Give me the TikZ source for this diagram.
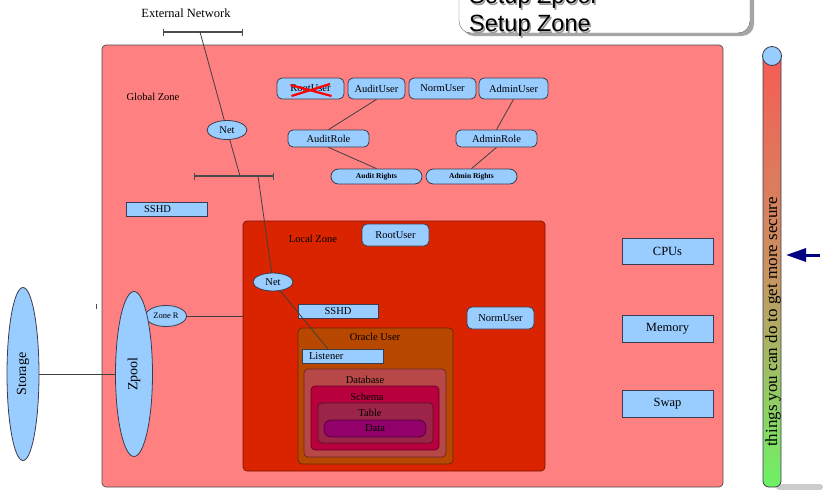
\documentclass[tikz,border=0pt]{standalone}
\usepackage{fontspec}
\setmainfont{Liberation Serif}
\newfontfamily\arialf{Liberation Sans}
\usetikzlibrary{shapes.geometric,arrows.meta}
\definecolor{lblue}{HTML}{99CCFF}
\definecolor{gzc}{HTML}{FF8080}
\definecolor{lzc}{HTML}{DA2400}
\definecolor{orc}{HTML}{B84700}
\definecolor{dbc}{HTML}{B84848}
\definecolor{scc}{HTML}{B8003F}
\definecolor{tbc}{HTML}{9C2449}
\definecolor{dtc}{HTML}{92006A}
\definecolor{edge}{HTML}{3C3C50}
\definecolor{navyc}{HTML}{000080}
\definecolor{barr}{HTML}{F85A55}
\definecolor{barm}{HTML}{C99262}
\definecolor{barg}{HTML}{6EF266}
\begin{document}
\begin{tikzpicture}[x=1pt,y=-1pt,
  lbl/.style={font=\fontsize{10.5}{12}\selectfont, inner sep=0},
  zonebox/.style={draw=#1!55!black, fill=#1, rounded corners=4, inner sep=0, line width=0.7},
  ubox/.style={draw=edge, fill=lblue, rounded corners=5, inner sep=0, line width=0.8, font=\fontsize{10.5}{12}\selectfont},
  rbox/.style={draw=edge, fill=lblue, inner sep=0, line width=1, font=\fontsize{10.5}{12}\selectfont},
  ebox/.style={ellipse, draw=edge, fill=lblue, inner sep=0, line width=0.8, font=\fontsize{10.5}{12}\selectfont},
  link/.style={draw=black!75, line width=0.8},
  netbar/.style={draw=black!70, line width=1.2, {Bar[width=7pt]}-{Bar[width=7pt]}},
]
\useasboundingbox (0,0) rectangle (823,490);
\fill[white] (0,0) rectangle (823,490);

% top box "Setup"
\fill[black!35, rounded corners=12] (462,-27) rectangle (754,36);
\node[draw=black!60, fill=white, rounded corners=12, minimum width=291, minimum height=63, inner sep=0] (setupbox) at (604.5,1.5) {};
\node[anchor=base west, inner sep=0, text=black!40, font=\arialf\fontsize{23.5}{28}\selectfont] (szpools) at (470.5,5) {Setup Zpool};
\node[anchor=base west, inner sep=0, font=\arialf\fontsize{23.5}{28}\selectfont] (szpool) at (469,3.5) {Setup Zpool};
\node[anchor=base west, inner sep=0, text=black!40, font=\arialf\fontsize{23.5}{28}\selectfont] (szones) at (470.5,33) {Setup Zone};
\node[anchor=base west, inner sep=0, font=\arialf\fontsize{23.5}{28}\selectfont] (szone) at (469,31.5) {Setup Zone};

% zones
\node[zonebox=gzc, draw=black!70, minimum width=621, minimum height=442] (gz) at (412.5,266) {};
\node[zonebox=lzc, minimum width=302, minimum height=250] (lz) at (394,346) {};
\node[zonebox=orc, minimum width=155, minimum height=136] (oracle) at (375.5,396) {};
\node[zonebox=dbc, minimum width=142, minimum height=88] (db) at (375,413) {};
\node[zonebox=scc, minimum width=128, minimum height=64] (schema) at (375,418) {};
\node[zonebox=tbc, minimum width=115, minimum height=40] (table) at (375.5,423) {};
\node[zonebox=dtc, rounded corners=7, minimum width=102, minimum height=17, lbl] (data) at (375,428.5) {Data};

\node[lbl, font=\fontsize{12.5}{14}\selectfont] (extnet) at (186,13) {External Network};
\node[lbl] (gzlbl) at (153,97) {Global Zone};
\node[lbl] (lzlbl) at (313,239) {Local Zone};
\node[lbl] (orlbl) at (375,337) {Oracle User};
\node[lbl] (dblbl) at (365,380) {Database};
\node[lbl] (sclbl) at (367,397) {Schema};
\node[lbl] (tblbl) at (370,413) {Table};

% users and roles
\node[ubox, minimum width=67, minimum height=21] (ru1) at (310.5,88.5) {RootUser};
\node[ubox, minimum width=57, minimum height=21] (au) at (376.5,88.5) {AuditUser};
\node[ubox, minimum width=67, minimum height=21] (nu1) at (442.5,88.5) {NormUser};
\node[ubox, minimum width=69, minimum height=21] (adu) at (513.5,88.5) {AdminUser};
\node[ubox, minimum width=81, minimum height=17] (ar) at (328.5,138.5) {AuditRole};
\node[ubox, minimum width=81, minimum height=17] (adr) at (496.5,138.5) {AdminRole};
\node[ubox, rounded corners=7.5, minimum width=91, minimum height=15, font=\bfseries\fontsize{7.5}{9}\selectfont] (arights) at (376.5,176.5) {Audit Rights};
\node[ubox, rounded corners=7.5, minimum width=91, minimum height=15, font=\bfseries\fontsize{7.5}{9}\selectfont] (adrights) at (471.5,176.5) {Admin Rights};
\node[ubox, minimum width=67, minimum height=22] (ru2) at (395.5,235) {RootUser};
\node[ubox, minimum width=67, minimum height=22] (nu2) at (500.5,318) {NormUser};

\begin{scope}[shift={(ru1.center)}]
\draw[red, line width=2.2] (-20,-3.5) -- (21,7.5) (-19,7.5) -- (19.5,-4.5);
\end{scope}

% rectangles
\node[rbox, minimum width=81, minimum height=14] (sshd1) at (166.5,209) {SSHD\hspace*{18pt}};
\node[rbox, minimum width=80, minimum height=14] (sshd2) at (338,311) {SSHD};
\node[rbox, text width=67, inner xsep=7, minimum height=14, align=left] (listener) at (342.5,356) {Listener};
\node[rbox, minimum width=91, minimum height=26, font=\fontsize{12.5}{14}\selectfont] (cpus) at (667.5,251) {CPUs};
\node[rbox, minimum width=91, minimum height=27, font=\fontsize{12.5}{14}\selectfont] (mem) at (667.5,328.5) {Memory};
\node[rbox, minimum width=91, minimum height=27, font=\fontsize{12.5}{14}\selectfont] (swap) at (667.5,403.5) {Swap};

% ellipses
\node[ebox, minimum width=40, minimum height=19] (net1) at (227,130) {Net};
\node[ebox, minimum width=40, minimum height=18] (net2) at (273,282) {Net};
\node[ebox, minimum width=41, minimum height=21, font=\fontsize{8.5}{10}\selectfont] (zoner) at (166,316) {Zone R};
\node[ebox, minimum width=37, minimum height=165, font=\fontsize{14}{16}\selectfont] (zpool) at (134,374) {\rotatebox{90}{Zpool}};
\node[ebox, minimum width=32, minimum height=173, font=\fontsize{14}{16}\selectfont] (storage) at (23,374) {\rotatebox{90}{Storage}};

% network bars
\coordinate (b1a) at (163,32);
\coordinate (b1b) at (243,32);
\coordinate (b1m) at (200,32);
\coordinate (b2a) at (194,176);
\coordinate (b2b) at (274,176);
\coordinate (b2m) at (240,176);
\coordinate (b2n) at (258,176);
\coordinate (lst) at (328,349);
\draw[netbar] (b1a) -- (b1b);
\draw[netbar] (b2a) -- (b2b);

% connectors
\draw[link] (b1m) -- (net1);
\draw[link] (net1) -- (b2m);
\draw[link] (b2n) -- (net2);
\draw[link] (net2) -- (lst);
\draw[link] (au.south) -- (ar.north);
\draw[link] (ar.south) -- (arights.north);
\draw[link] (adu.south) -- (adr.north);
\draw[link] (adr.south) -- (adrights.north);
\draw[link] (zoner.east) -- (zoner.east -| lz.west);
\draw[link] (storage.east) -- (zpool.west);
\coordinate (tk1) at (96,304);
\coordinate (tk2) at (96,309);
\draw[black!70, line width=0.8] (tk1) -- (tk2);

% security bar
\fill[black!20, rounded corners=3] (776,484) rectangle (823,490);
\draw[edge, line width=0.8, top color=barr, bottom color=barg, middle color=barm, rounded corners=6] (763,50) rectangle (781,487);
\node[circle, draw=edge, fill=lblue, line width=0.8, minimum size=19, inner sep=0] (knob) at (772,56) {};
\node[rotate=90, inner sep=0, font=\fontsize{17}{20}\selectfont] (secure) at (773,322) {things you can do to get more secure};
\coordinate (arrtail) at (820,255);
\coordinate (arrtip) at (786,255);
\draw[navyc, line width=3, -{Triangle[length=20pt,width=13pt]}] (arrtail) -- (arrtip);
\end{tikzpicture}
\end{document}
